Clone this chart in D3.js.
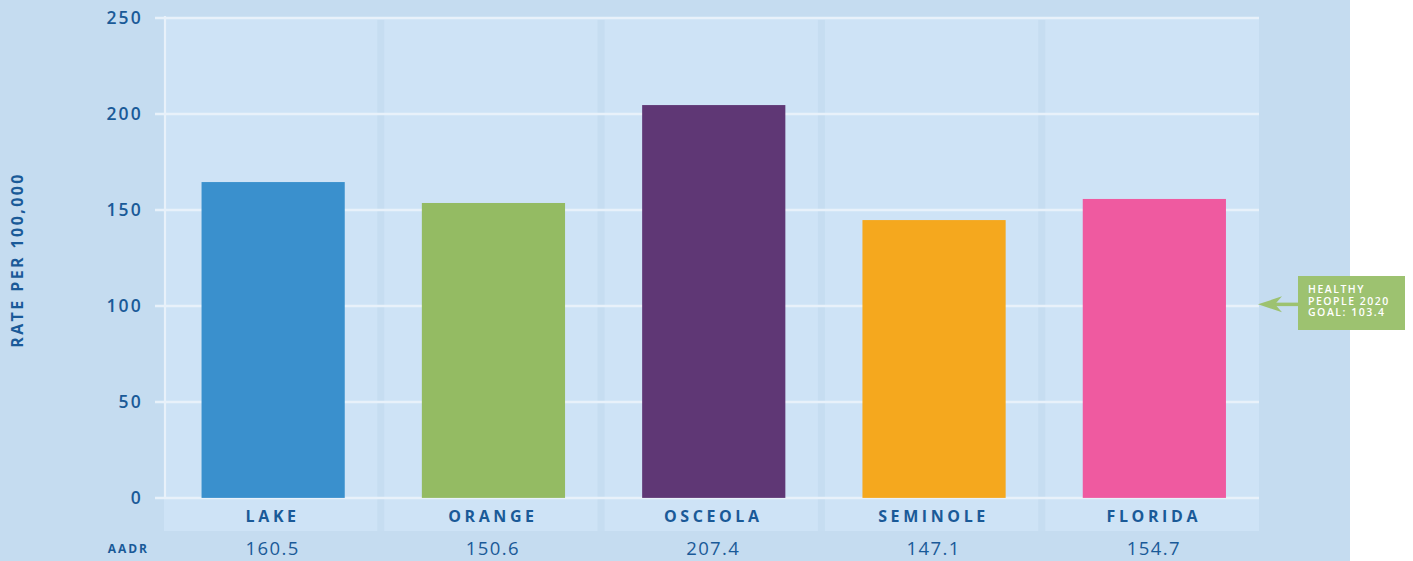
<!DOCTYPE html>
<html><head><meta charset="utf-8">
<script src="https://cdn.jsdelivr.net/npm/d3@7"></script>
<style>
html,body{margin:0;padding:0;background:#ffffff;}
svg{display:block;font-family:"Open Sans","Noto Sans",sans-serif;}
</style></head>
<body><svg id="chart" width="1413" height="561"></svg>
<script>
// ---- data ----
const categories = ["LAKE", "ORANGE", "OSCEOLA", "SEMINOLE", "FLORIDA"];
const barValues = [164.5, 153.6, 204.6, 144.7, 155.7];      // bar heights as drawn
const aadrLabels = ["160.5", "150.6", "207.4", "147.1", "154.7"];
const barColors = ["#3a90cd", "#94bb63", "#5f3775", "#f5a81e", "#ef5aa0"];
const yTicks = [0, 50, 100, 150, 200, 250];
const goalValue = 100.8;
const goalLines = ["HEALTHY", "PEOPLE 2020", "GOAL: 103.4"];

// ---- layout ----
const W = 1413, H = 561;
const textColor = "#1a5a98";
const svg = d3.select("#chart");
svg.append("rect").attr("x",0).attr("y",0).attr("width",1350).attr("height",H).attr("fill","#c5dcf0");

const plotLeft = 164, plotRight = 1259;
const y = d3.scaleLinear().domain([0,250]).range([497.9, 17.9]);
const x = d3.scaleBand().domain(categories).range([160.5, 1262]).paddingInner(0).paddingOuter(0);
const bandBottom = 531;

// panel background
svg.append("rect").attr("x",plotLeft).attr("y",y(250)).attr("width",plotRight-plotLeft)
  .attr("height",bandBottom-y(250)).attr("fill","#cee3f6");
// separators
svg.selectAll("rect.sep").data(categories.slice(1)).enter().append("rect")
  .attr("class","sep")
  .attr("x",d=>x(d)-3.5).attr("y",y(250)+2).attr("width",7)
  .attr("height",bandBottom-y(250)-2).attr("fill","#c6ddf1");

// gridlines
svg.selectAll("line.grid").data(yTicks).enter().append("line")
  .attr("x1",155).attr("x2",plotRight)
  .attr("y1",d=>y(d)).attr("y2",d=>y(d))
  .attr("stroke","#e8f1fa").attr("stroke-width",2.5);
// left white vertical line
svg.append("line").attr("x1",165).attr("x2",165).attr("y1",y(250)-2).attr("y2",y(0))
  .attr("stroke","#e8f1fa").attr("stroke-width",2.2);

// tick labels
svg.selectAll("text.tick").data(yTicks).enter().append("text")
  .attr("x",143).attr("y",d=>y(d)+6)
  .attr("text-anchor","end").attr("fill",textColor)
  .attr("font-size",17.5).attr("font-weight",600).attr("letter-spacing",2.2)
  .text(d=>d);

// bars
const bw = x.bandwidth()*0.65;
svg.selectAll("rect.bar").data(categories).enter().append("rect")
  .attr("class","bar")
  .attr("x",d=>x(d)+x.bandwidth()/2-bw/2+2.5)
  .attr("y",(d,i)=>y(barValues[i]))
  .attr("width",bw)
  .attr("height",(d,i)=>y(0)-y(barValues[i]))
  .attr("fill",(d,i)=>barColors[i]);

// category labels
svg.selectAll("text.cat").data(categories).enter().append("text")
  .attr("x",d=>x(d)+x.bandwidth()/2+2).attr("y",522)
  .attr("text-anchor","middle").attr("fill",textColor)
  .attr("font-size",16).attr("font-weight",700).attr("letter-spacing",3.6)
  .text(d=>d);

// AADR row
svg.append("text").attr("x",149).attr("y",553).attr("text-anchor","end")
  .attr("fill",textColor).attr("font-size",12).attr("font-weight",700)
  .attr("letter-spacing",2).text("AADR");
svg.selectAll("text.aadr").data(categories).enter().append("text")
  .attr("x",d=>x(d)+x.bandwidth()/2+2).attr("y",555)
  .attr("text-anchor","middle").attr("fill",textColor)
  .attr("font-size",18.5).attr("letter-spacing",1.4)
  .text((d,i)=>aadrLabels[i]);

// y axis title
svg.append("text").attr("transform","translate(23,260) rotate(-90)")
  .attr("text-anchor","middle").attr("fill",textColor)
  .attr("font-size",16).attr("font-weight",700).attr("letter-spacing",2.4)
  .text("RATE PER 100,000");

// goal annotation
const gy = y(goalValue);
const green = "#9dc270";
svg.append("rect").attr("x",1298).attr("y",276).attr("width",107).attr("height",54).attr("fill",green);
svg.append("line").attr("x1",1274).attr("x2",1298).attr("y1",gy).attr("y2",gy)
  .attr("stroke",green).attr("stroke-width",3.5);
svg.append("path").attr("d",`M1258,${gy} L1282,${gy-8} L1275,${gy} L1282,${gy+8} Z`)
  .attr("fill",green);
svg.append("g").selectAll("text").data(goalLines).enter().append("text")
  .attr("x",1308).attr("y",(d,i)=>293+i*11.5)
  .attr("fill","#ffffff").attr("font-size",10.5).attr("font-weight",600).attr("letter-spacing",1.5)
  .text(d=>d);
</script></body></html>
